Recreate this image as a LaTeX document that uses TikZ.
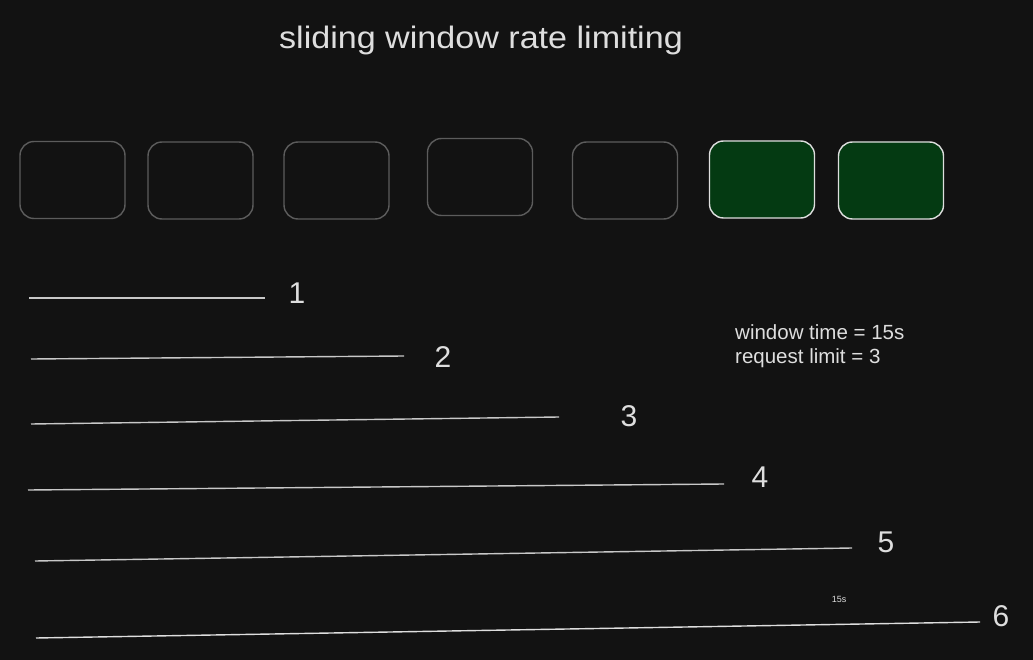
\documentclass[tikz,border=0pt]{standalone}
\usepackage{fontspec}
\setmainfont{Liberation Sans}
\definecolor{bg}{HTML}{121212}
\definecolor{ink}{HTML}{DEDEDE}
\definecolor{dimline}{HTML}{5C5C5C}
\definecolor{lineclr}{HTML}{C8C8C8}
\definecolor{greenfill}{HTML}{043A12}
\tikzset{
  slot/.style={draw=dimline, line width=1.4pt, rounded corners=14pt, minimum width=105pt, minimum height=77pt, inner sep=0pt},
  active/.style={slot, draw=ink, fill=greenfill},
  tline/.style={draw=lineclr, line width=1.4pt},
  num/.style={text=ink, font=\fontsize{30}{30}\selectfont, inner sep=0pt},
  info/.style={text=ink, font=\fontsize{20.5}{24}\selectfont, inner sep=0pt, align=left}
}
\begin{document}
\begin{tikzpicture}[x=1pt,y=-1pt]
\fill[bg] (0,0) rectangle (1033,660);
\useasboundingbox (0,0) rectangle (1033,660);
\node[text=ink, font=\fontsize{31}{31}\selectfont, inner sep=0pt, xscale=1.1, transform shape] (title) at (481,40) {sliding window rate limiting};
\node[slot] (b1) at (72.5,180) {};
\node[slot] (b2) at (200.5,180.5) {};
\node[slot] (b3) at (336.5,180.5) {};
\node[slot] (b4) at (480,177) {};
\node[slot] (b5) at (625,180.5) {};
\node[active] (b6) at (762,179.5) {};
\node[active] (b7) at (891,180.5) {};
\node[info, anchor=west] (info) at (735,346) {window time = 15s\\request limit = 3};
\coordinate (s1) at (29,298); \coordinate (e1) at (265,298);
\coordinate (s2) at (31,359); \coordinate (e2) at (404,356);
\coordinate (s3) at (31,424); \coordinate (e3) at (559,417);
\coordinate (s4) at (28,490); \coordinate (e4) at (724,484);
\coordinate (s5) at (35,561); \coordinate (e5) at (852,548);
\coordinate (s6) at (36,638); \coordinate (e6) at (980,622);
\draw[tline] (s1) -- (e1);
\draw[tline] (s2) -- (e2);
\draw[tline] (s3) -- (e3);
\draw[tline] (s4) -- (e4);
\draw[tline] (s5) -- (e5);
\draw[tline, draw=ink] (s6) -- (e6);
\node[num] (n1) at (297,293) {1};
\node[num] (n2) at (443,357) {2};
\node[num] (n3) at (629,416) {3};
\node[num] (n4) at (760,477) {4};
\node[num] (n5) at (886,542) {5};
\node[num] (n6) at (1001,616) {6};
\node[text=ink, font=\fontsize{9}{9}\selectfont, inner sep=0pt] (t15) at (839,599) {15s};
\end{tikzpicture}
\end{document}
